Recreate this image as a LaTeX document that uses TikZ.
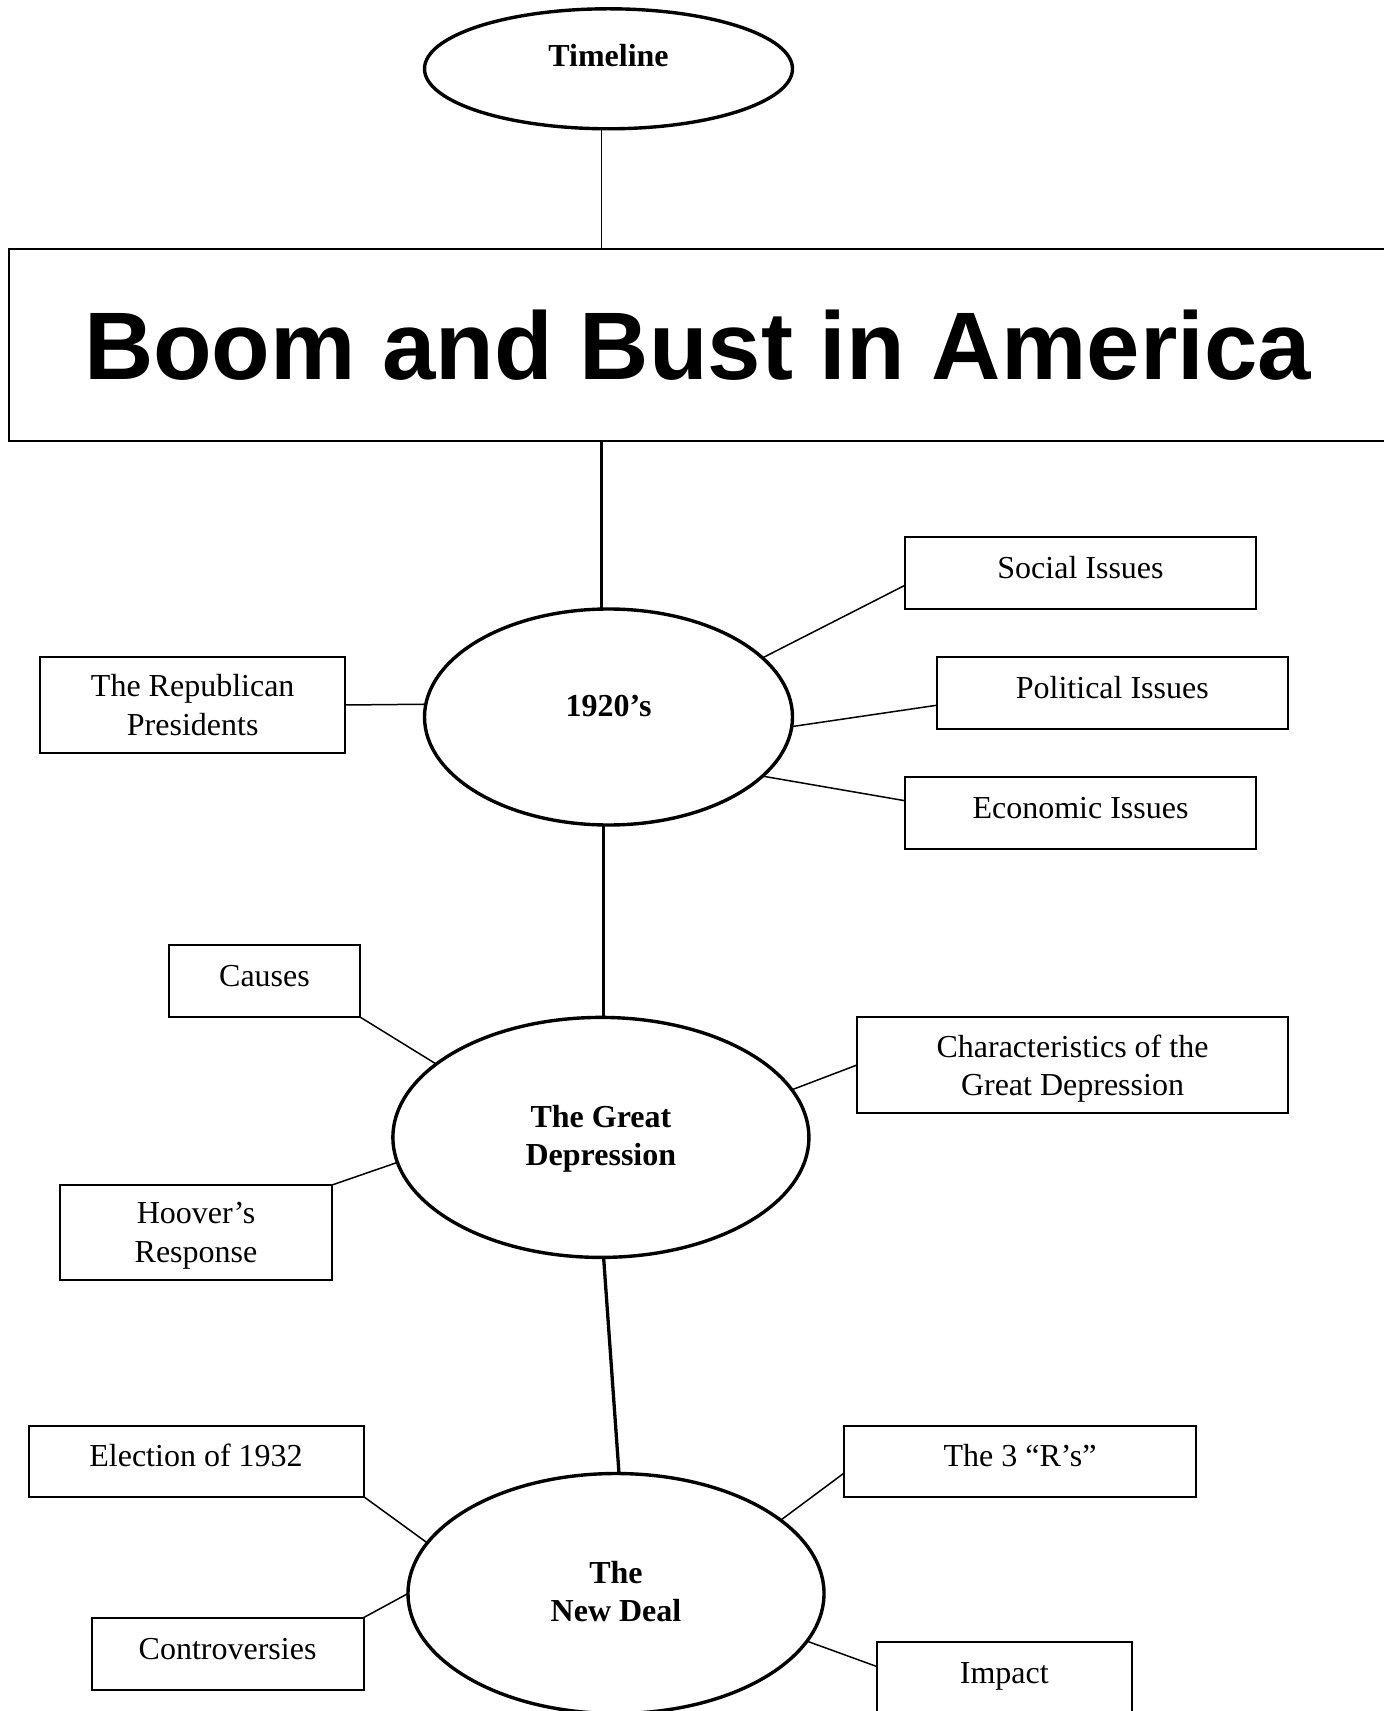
\documentclass[tikz,border=0pt]{standalone}
\usepackage{fontspec}
\setmainfont{Liberation Serif}
\newfontfamily\titlefont{Liberation Sans}
\usetikzlibrary{shapes.geometric,calc}

\begin{document}
\begin{tikzpicture}[x=0.5pt,y=-0.5pt,
  every node/.style={font=\fontsize{16}{19.2}\selectfont, inner sep=0pt, outer sep=0pt},
  topic/.style={draw, line width=1pt, rectangle, align=center},
  onebox/.style={topic, text height=11pt, text depth=5.4pt},
  twobox/.style={topic, text depth=0pt},
  era/.style={draw, ellipse, line width=1.7pt, align=center,
    font=\fontsize{16}{19.2}\selectfont\bfseries},
  spoke/.style={line width=0.75pt},
  trunk/.style={line width=1.65pt},
]
\useasboundingbox (0,0) rectangle (1384,1711);
\clip (0,0) rectangle (1384,1711);
\fill[white] (0,0) rectangle (1384,1711);

% title banner and the four era ellipses
\node[draw, line width=1pt, minimum width=688.75pt, minimum height=96pt,
  font=\titlefont\bfseries\fontsize{48}{57.6}\selectfont] (title) at (697.45,345)
  {Boom and Bust in America};

\node[era, minimum width=184pt, minimum height=60pt, text height=11pt, text depth=13.4pt]
  (tl) at (608.5,68.8) {Timeline};
\node[era, minimum width=184pt, minimum height=108pt, text height=11pt, text depth=11.4pt]
  (e20) at (608.5,717) {1920’s};
\node[era, minimum width=208pt, minimum height=120pt, text depth=2pt]
  (gd) at (600.9,1137.4) {The Great\\Depression};
\node[era, minimum width=208pt, minimum height=120pt, text depth=2pt]
  (nd) at (616,1593.5) {The\\New Deal};

% topic boxes
\node[twobox, minimum width=152.3pt, minimum height=48pt] (rep) at (192.7,705) {The Republican\\Presidents};
\node[onebox, minimum width=175.5pt, minimum height=36pt] (soc) at (1080.5,573) {Social Issues};
\node[onebox, minimum width=175.75pt, minimum height=36pt] (pol) at (1112.3,693) {Political Issues};
\node[onebox, minimum width=175.5pt, minimum height=36pt] (eco) at (1080.5,813) {Economic Issues};

\node[onebox, minimum width=95.5pt, minimum height=36pt] (cau) at (264.5,981) {Causes};
\node[twobox, minimum width=215.5pt, minimum height=48pt] (cha) at (1072.5,1065) {Characteristics of the\\Great Depression};
\node[twobox, minimum width=136pt, minimum height=47.5pt] (hoo) at (196,1232.5) {Hoover’s\\Response};

\node[onebox, minimum width=167.5pt, minimum height=35.5pt] (ele) at (196,1461) {Election of 1932};
\node[onebox, minimum width=136pt, minimum height=36pt] (con) at (227.6,1653.6) {Controversies};
\node[onebox, minimum width=176.3pt, minimum height=35.5pt] (thr) at (1020,1461) {The 3 “R’s”};
\node[onebox, minimum width=127.75pt, minimum height=36pt] (imp) at (1004.3,1677.6) {Impact};

% vertical trunk
\coordinate (k0) at ($(tl.south)+(-7,0)$);
\draw[spoke] (k0) -- (k0 |- title.north);
\coordinate (k1) at ($(e20.north)+(-7,0)$);
\draw[trunk] (title.south -| k1) -- (k1);
\coordinate (k2) at ($(gd.north)+(2.7,0)$);
\draw[trunk] (e20.south -| k2) -- (k2);
\draw[trunk] ($(gd.south)+(2.7,0)$) -- ($(nd.north)+(3,0)$);

% spokes
\draw[spoke] (rep.east) -- (e20.176);
\draw[spoke] (soc.184) -- (e20.21);
\draw[spoke] (pol.184) -- (e20.357);
\draw[spoke] (eco.176) -- (e20.339);

\draw[spoke] (cau.south east) -- (gd.156);
\draw[spoke] (cha.west) -- (gd.14);
\draw[spoke] (hoo.north east) -- (gd.187);

\draw[spoke] (ele.south east) -- (nd.165);
\draw[spoke] (con.north east) -- (nd.west);
\draw[spoke] (thr.184) -- (nd.24);
\draw[spoke] (imp.175) -- (nd.346);
\end{tikzpicture}
\end{document}
